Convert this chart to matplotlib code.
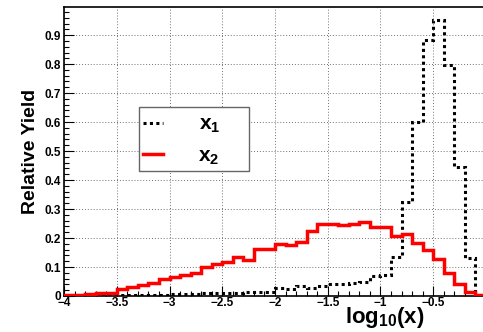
import numpy as np
import matplotlib
matplotlib.use('Agg')
import matplotlib.pyplot as plt
from matplotlib.ticker import MultipleLocator, FuncFormatter
from matplotlib.lines import Line2D
from matplotlib.patches import Rectangle

plt.rcParams['font.family'] = 'Liberation Sans'
plt.rcParams['font.weight'] = 'bold'
plt.rcParams['mathtext.fontset'] = 'custom'
plt.rcParams['mathtext.rm'] = 'Liberation Sans:bold'
plt.rcParams['mathtext.it'] = 'Liberation Sans:bold'
plt.rcParams['mathtext.bf'] = 'Liberation Sans:bold'
plt.rcParams['mathtext.default'] = 'regular'

# 40 bins of 0.1 in log10(x), from -4 to 0
edges = np.round(np.arange(-4.0, 0.05, 0.1), 1)

x1_yield = [0.001, 0.002, 0.002, 0.002, 0.003, 0.003, 0.004, 0.004, 0.005, 0.005,
            0.007, 0.008, 0.008, 0.009, 0.010, 0.012, 0.012, 0.013, 0.014, 0.015,
            0.026, 0.023, 0.034, 0.027, 0.034, 0.041, 0.043, 0.046, 0.049, 0.069,
            0.072, 0.133, 0.325, 0.601, 0.883, 0.952, 0.797, 0.446, 0.130, 0.004]

x2_yield = [0.002, 0.004, 0.006, 0.009, 0.011, 0.024, 0.032, 0.038, 0.046, 0.057,
            0.067, 0.074, 0.080, 0.099, 0.109, 0.118, 0.133, 0.124, 0.162, 0.163,
            0.180, 0.175, 0.186, 0.224, 0.249, 0.248, 0.246, 0.248, 0.254, 0.237,
            0.238, 0.207, 0.213, 0.183, 0.158, 0.126, 0.080, 0.040, 0.015, 0.003]

W, H = 483, 332
fig = plt.figure(figsize=(W / 100, H / 100), dpi=100)
ax = fig.add_axes([64 / W, (H - 296) / H, (486 - 64) / W, (296 - 7) / H])

ax.stairs(x1_yield, edges, color='black', linewidth=2.2,
          linestyle=(0, (1, 1.1)), zorder=3)
ax.stairs(x2_yield, edges, color='#ff0000', linewidth=2.5, zorder=4)

ax.set_xlim(-4, 0)
ax.set_ylim(0, 0.997)

ax.xaxis.set_major_locator(MultipleLocator(0.5))
ax.xaxis.set_minor_locator(MultipleLocator(0.1))
ax.yaxis.set_major_locator(MultipleLocator(0.1))
ax.yaxis.set_minor_locator(MultipleLocator(0.02))
fmt = FuncFormatter(lambda v, p: f'{v:g}'.replace('-', '\u2212'))
ax.xaxis.set_major_formatter(fmt)
ax.yaxis.set_major_formatter(fmt)

ax.tick_params(which='both', direction='in', top=False, right=False,
               labelsize=8.5, width=0.8)
ax.tick_params(which='major', length=7)
ax.tick_params(which='minor', length=3.5)
ax.tick_params(axis='x', pad=1)
ax.tick_params(axis='y', pad=2)

ax.grid(True, which='major', color='#707070', linewidth=0.7,
        linestyle=(0, (1, 2)))
ax.set_axisbelow(True)
for s in ax.spines.values():
    s.set_linewidth(1.2)

ax.set_ylabel('Relative Yield', fontsize=14, fontweight='bold', labelpad=4)
fig.text(345 / W, (H - 323) / H, 'log$_{10}$(x)', fontsize=16,
         fontweight='bold', ha='left', va='baseline')

# legend box
fig.patches.append(Rectangle((139 / W, (H - 171) / H), 110 / W, 64 / H,
                             transform=fig.transFigure, facecolor='white',
                             edgecolor='#666666', linewidth=1.0, zorder=5))
fig.lines.append(Line2D([143 / W, 163 / W], [(H - 122.7) / H] * 2,
                        transform=fig.transFigure, color='black', linewidth=2.2,
                        linestyle=(0, (1, 1.1)), zorder=6))
fig.lines.append(Line2D([143 / W, 163 / W], [(H - 154.3) / H] * 2,
                        transform=fig.transFigure, color='#ff0000',
                        linewidth=2.5, zorder=6))
fig.text(199 / W, (H - 130) / H, 'x$_1$', fontsize=15, ha='left',
         va='baseline', zorder=7)
fig.text(198 / W, (H - 161.7) / H, 'x$_2$', fontsize=15, ha='left',
         va='baseline', zorder=7)

fig.savefig('out.png', dpi=100)
